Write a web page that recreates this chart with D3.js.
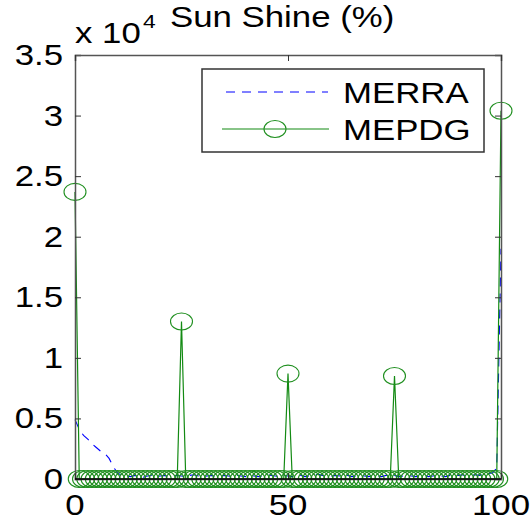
<!DOCTYPE html>
<html>
<head>
<meta charset="utf-8">
<script src="https://cdn.jsdelivr.net/npm/d3@7"></script>
<style>
  body { margin: 0; background: #fff; }
  text { font-family: "Liberation Sans", Arial, sans-serif; fill: #000; }
</style>
</head>
<body>
<script>
// chart data
var xTicks = [0, 50, 100];
var yTicks = [0, 5000, 10000, 15000, 20000, 25000, 30000, 35000];
var yTickLabels = ["0", "0.5", "1", "1.5", "2", "2.5", "3", "3.5"];
var seriesNames = ["MERRA", "MEPDG"];

// MERRA, one value per x = 0..100
var merra = [4900, 4100, 3600, 3300, 2900, 2600, 2300, 2100, 1700, 1000, 500,
  300, 250, 200, 300, 250, 150, 250, 300, 200, 250,
  300, 200, 250, 300, 250, 200, 300, 350, 250, 200,
  250, 300, 200, 250, 300, 250, 200, 300, 250, 200,
  300, 250, 200, 250, 350, 300, 250, 200, 300, 250,
  200, 250, 300, 200, 250, 300, 400, 300, 250, 200,
  300, 250, 350, 300, 200, 250, 300, 250, 200, 300,
  250, 200, 300, 250, 300, 200, 250, 300, 250, 200,
  250, 300, 200, 250, 300, 250, 200, 300, 250, 300,
  350, 250, 300, 350, 300, 400, 450, 500, 900, 19000];

// MEPDG, one value per x = 0..100
var mepdg = [23700, 0, 0, 0, 0, 0, 0, 0, 0, 0, 0,
  0, 0, 0, 0, 0, 0, 0, 0, 0, 0,
  0, 0, 0, 0, 13000, 0, 0, 0, 0, 0,
  0, 0, 0, 0, 0, 0, 0, 0, 0, 0,
  0, 0, 0, 0, 0, 0, 0, 0, 0, 8700,
  0, 0, 0, 0, 0, 0, 0, 0, 0, 0,
  0, 0, 0, 0, 0, 0, 0, 0, 0, 0,
  0, 0, 0, 0, 8500, 0, 0, 0, 0, 0,
  0, 0, 0, 0, 0, 0, 0, 0, 0, 0,
  0, 0, 0, 0, 0, 0, 0, 0, 0, 30400];

var svgWidth = 532;
var svgHeight = 523;
var margin = { top: 55, right: 31, bottom: 44, left: 75 };
var width = svgWidth - margin.left - margin.right;
var height = svgHeight - margin.top - margin.bottom;
var stretch = 1.2; // text in the picture is a bit wide
var fontSize = 29;

var svg = d3.select("body").append("svg")
  .attr("width", svgWidth)
  .attr("height", svgHeight);

var chartGroup = svg.append("g")
  .attr("transform", `translate(${margin.left}, ${margin.top})`);

var xScale = d3.scaleLinear().domain([0, 100]).range([0, width]);
var yScale = d3.scaleLinear().domain([0, 35000]).range([height, 0]);

function wideText(g, x, y, str, anchor, size) {
  return g.append("text")
    .attr("transform", `translate(${x}, ${y}) scale(${stretch}, 1)`)
    .attr("text-anchor", anchor || "start")
    .attr("font-size", size || fontSize)
    .text(str);
}

// data lines
var lineGen = d3.line()
  .x((d, i) => xScale(i))
  .y(d => yScale(d));

chartGroup.append("path")
  .datum(merra)
  .attr("d", lineGen)
  .attr("fill", "none")
  .attr("stroke", "#0000ff")
  .attr("stroke-width", 1.1)
  .attr("stroke-dasharray", "9,7");

chartGroup.append("path")
  .datum(mepdg)
  .attr("d", lineGen)
  .attr("fill", "none")
  .attr("stroke", "#138a13")
  .attr("stroke-width", 1.2);

chartGroup.selectAll("ellipse.marker")
  .data(mepdg)
  .enter()
  .append("ellipse")
  .attr("class", "marker")
  .attr("cx", (d, i) => xScale(i))
  .attr("cy", d => yScale(d))
  .attr("rx", 11)
  .attr("ry", 8.5)
  .attr("fill", "none")
  .attr("stroke", "#1f8f1f")
  .attr("stroke-width", 1.1);

// axes, ticks inside the box
var leftAxis = d3.axisLeft(yScale).tickValues(yTicks).tickSize(-6).tickFormat("");
var rightAxis = d3.axisRight(yScale).tickValues(yTicks).tickSize(-6).tickFormat("");
var bottomAxis = d3.axisBottom(xScale).tickValues(xTicks).tickSize(-6).tickFormat("");
var topAxis = d3.axisTop(xScale).tickValues(xTicks).tickSize(-6).tickFormat("");

chartGroup.append("g").call(leftAxis);
chartGroup.append("g").attr("transform", `translate(${width}, 0)`).call(rightAxis);
chartGroup.append("g").call(topAxis);
chartGroup.append("g").attr("transform", `translate(0, ${height})`).call(bottomAxis);
chartGroup.selectAll(".domain").attr("stroke", "#555").attr("stroke-width", 1.5);
chartGroup.selectAll(".tick line").attr("stroke", "#333");

// zero line is dark in the picture
chartGroup.append("line")
  .attr("x1", 0).attr("x2", width)
  .attr("y1", yScale(0)).attr("y2", yScale(0))
  .attr("stroke", "#000")
  .attr("stroke-width", 1.5);

// tick labels
yTicks.forEach(function(v, i) {
  wideText(svg, margin.left - 12, margin.top + yScale(v) + 10, yTickLabels[i], "end");
});
xTicks.forEach(function(v) {
  wideText(svg, margin.left + xScale(v), margin.top + height + 36, String(v), "middle");
});

// exponent and title
wideText(svg, 75, 43, "x 10");
wideText(svg, 143, 28, "4", "start", 19);
wideText(svg, 170, 27, "Sun Shine (%)");

// legend
var legend = svg.append("g");
legend.append("rect")
  .attr("x", 202).attr("y", 69)
  .attr("width", 282).attr("height", 83)
  .attr("fill", "#fff")
  .attr("stroke", "#333")
  .attr("stroke-width", 1.5);

legend.append("line")
  .attr("x1", 226).attr("x2", 328).attr("y1", 92).attr("y2", 92)
  .attr("stroke", "#0000ff").attr("stroke-dasharray", "9,7");
wideText(legend, 343, 103, seriesNames[0]);

legend.append("line")
  .attr("x1", 222).attr("x2", 329).attr("y1", 129).attr("y2", 129)
  .attr("stroke", "#138a13").attr("stroke-width", 1.2);
legend.append("ellipse")
  .attr("cx", 275).attr("cy", 129).attr("rx", 11).attr("ry", 8.5)
  .attr("fill", "none").attr("stroke", "#1f8f1f").attr("stroke-width", 1.1);
wideText(legend, 343, 140, seriesNames[1]);
</script>
</body>
</html>
